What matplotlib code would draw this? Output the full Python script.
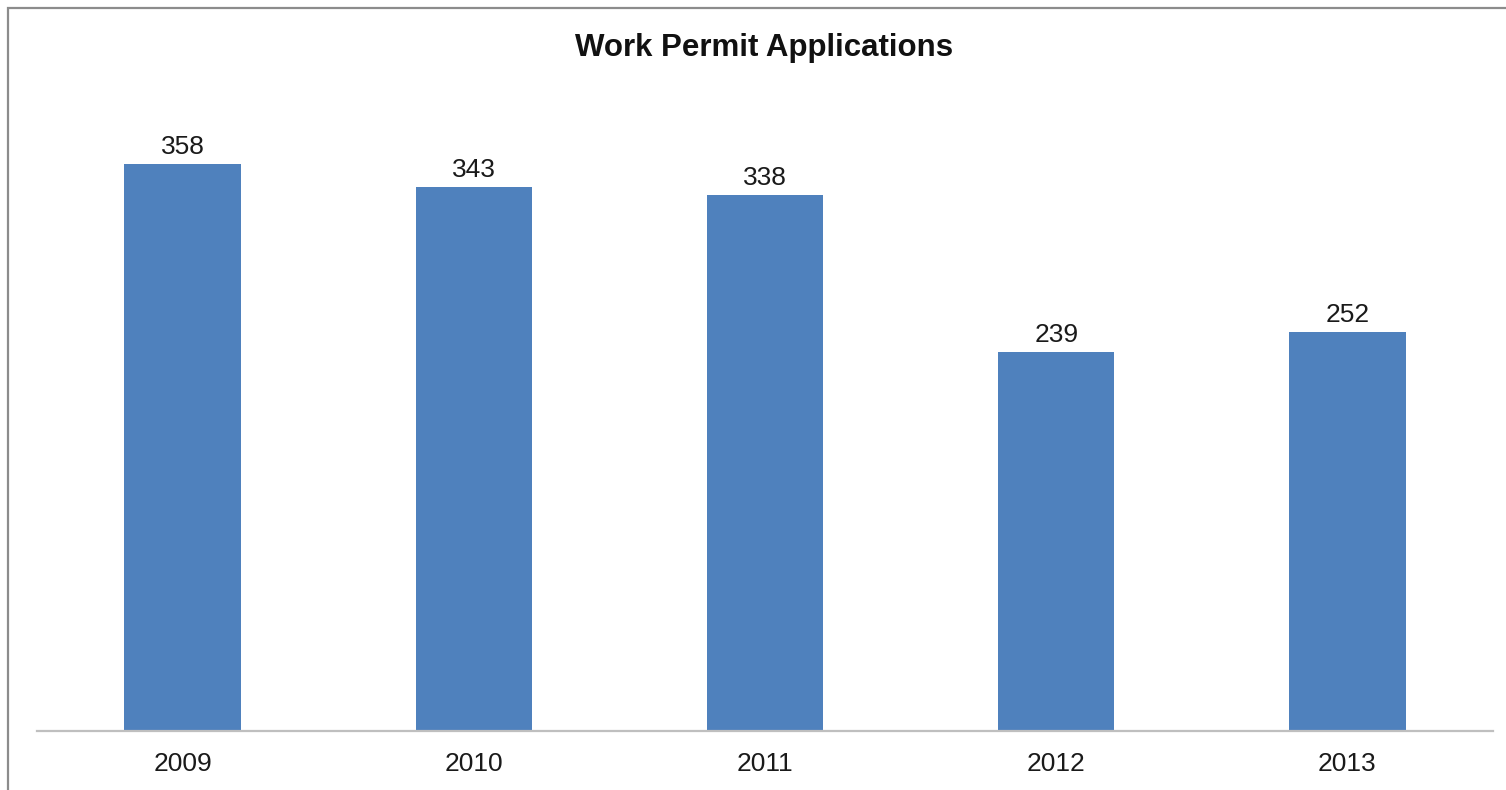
import matplotlib.pyplot as plt
from matplotlib.patches import Rectangle

plt.rcParams['font.family'] = ['Liberation Sans', 'DejaVu Sans']

# data
years = ['2009', '2010', '2011', '2012', '2013']
applications = [358, 343, 338, 239, 252]

BAR_COLOR = '#4F81BD'

fig = plt.figure(figsize=(15.06, 7.90), dpi=100)
ax = fig.add_axes([37 / 1506, 59 / 790, 1456 / 1506, 634 / 790])

x = range(len(years))
bars = ax.bar(x, applications, width=0.4, color=BAR_COLOR)
ax.bar_label(bars, labels=[str(v) for v in applications], padding=3.5,
             fontsize=19, color='#1a1a1a')

ax.set_xlim(-0.5, len(years) - 0.5)
ax.set_ylim(0, 400)
ax.set_xticks(list(x))
ax.set_xticklabels(years, fontsize=19, color='#1a1a1a')
ax.tick_params(axis='x', length=0, pad=15)
ax.set_yticks([])

for side in ['top', 'right', 'left']:
    ax.spines[side].set_visible(False)
ax.spines['bottom'].set_color('#BFBFBF')
ax.spines['bottom'].set_linewidth(1.6)

fig.text(764 / 1506, 1 - 56 / 790, 'Work Permit Applications', ha='center',
         va='baseline', fontsize=22.5, fontweight='bold', color='#111111')

# chart frame (runs off the right and bottom edges like the screenshot)
frame = Rectangle((8 / 1506, -0.1), 1.2, 1 - 8 / 790 + 0.1,
                  transform=fig.transFigure, fill=False,
                  edgecolor='#8c8c8c', linewidth=1.6)
fig.patches.append(frame)

fig.savefig('out.png', dpi=100)
